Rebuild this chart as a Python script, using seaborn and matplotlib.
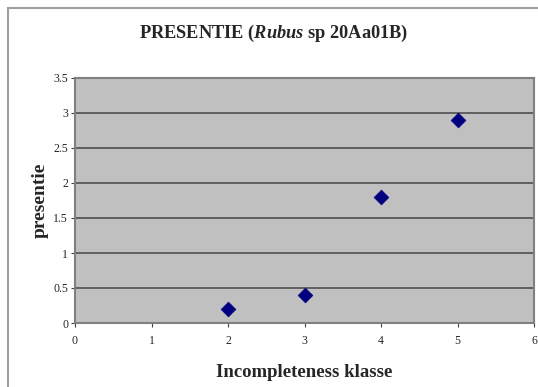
import pandas as pd
import matplotlib.pyplot as plt
import seaborn as sns
from matplotlib.patches import Rectangle

# Data afleest fra figuren
klasse = [2, 3, 4, 5]
presentie = [0.2, 0.4, 1.8, 2.9]
xticks = [0, 1, 2, 3, 4, 5, 6]
yticks = [0, 0.5, 1, 1.5, 2, 2.5, 3, 3.5]

df = pd.DataFrame({'klasse': klasse, 'presentie': presentie})

sns.set_style('white')
plt.rcParams['font.family'] = ['Liberation Serif', 'DejaVu Serif']
plt.rcParams['mathtext.fontset'] = 'custom'
plt.rcParams['mathtext.it'] = 'Liberation Serif:italic:bold'
plt.rcParams['mathtext.rm'] = 'Liberation Serif:bold'

fig = plt.figure(figsize=(5.38, 3.87), dpi=100)
ax = fig.add_axes([75 / 538, 1 - 323 / 387, (534 - 75) / 538, (323 - 78) / 387])

ax.set_facecolor('#C0C0C0')
sns.scatterplot(data=df, x='klasse', y='presentie', ax=ax, marker='D', s=55,
                color='#000080', edgecolor='#000080', zorder=3)

ax.set_xlim(0, 6)
ax.set_ylim(0, 3.5)
ax.set_xticks(xticks)
ax.set_yticks(yticks)
ax.set_xticklabels([str(t) for t in xticks])
ax.set_yticklabels(['0', '0.5', '1', '1.5', '2', '2.5', '3', '3.5'])
ax.tick_params(axis='both', labelsize=8.5, length=3, width=0.8, color='#404040',
               direction='out', pad=2)
ax.tick_params(axis='x', bottom=True, pad=6)
ax.tick_params(axis='y', left=True)

for y in yticks[1:-1]:
    ax.axhline(y, color='#505050', lw=1.2, zorder=1)

for side in ['top', 'right', 'bottom', 'left']:
    ax.spines[side].set_color('#808080')
    ax.spines[side].set_linewidth(1.5)
    ax.spines[side].set_visible(True)

ax.set_xlabel('Incompleteness klasse', fontsize=13.5, fontweight='bold', labelpad=12)
ax.set_ylabel('presentie', fontsize=14, fontweight='bold', labelpad=3)

fig.text(0.508, 1 - 33 / 387, r'PRESENTIE ($\mathit{Rubus}$ sp 20Aa01B)',
         ha='center', va='center', fontsize=13.2, fontweight='bold')

# Grå ramme om hele diagrammet
fig.patches.append(Rectangle((8 / 538, -0.1), 1.1, 1 - 8 / 387 + 0.1,
                             transform=fig.transFigure, fill=False,
                             edgecolor='#A0A0A0', lw=1.5))

fig.savefig('out.png', dpi=100)
